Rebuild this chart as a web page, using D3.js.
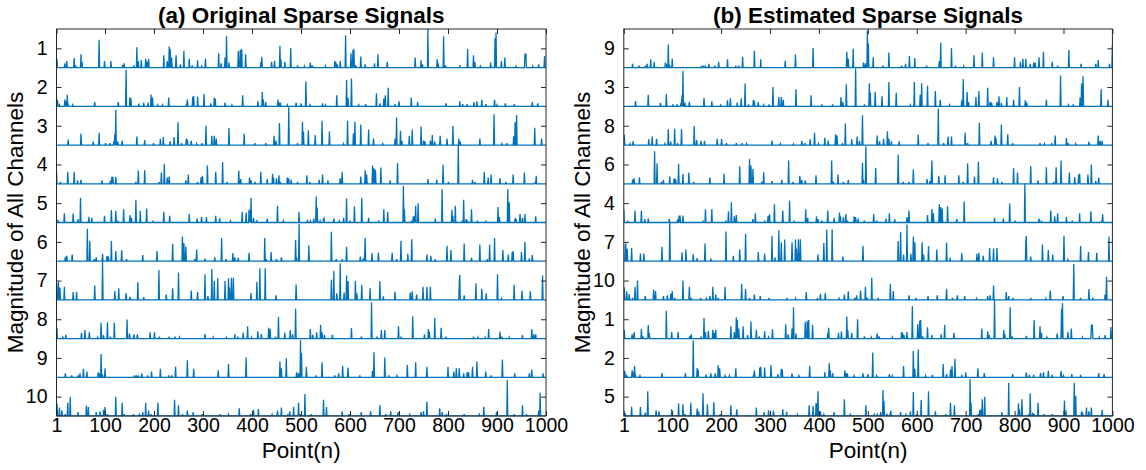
<!DOCTYPE html>
<html><head><meta charset="utf-8">
<script src="https://cdn.jsdelivr.net/npm/d3@7/dist/d3.min.js"></script>
<style>
body{margin:0;background:#fff}
text{font-family:"Liberation Sans",Arial,Helvetica,sans-serif;fill:#000}
</style>
</head><body>
<svg id="chart" width="1146" height="470"></svg>
<script>
// ---------- data ----------
const pointCount = 1000;
const xTickValues = [1,100,200,300,400,500,600,700,800,900,1000];
const titleA = "(a) Original Sparse Signals";
const titleB = "(b) Estimated Sparse Signals";
const xLabel = "Point(n)";
const yLabel = "Magnitude of All Channels";
const rowLabelsA = [1,2,3,4,5,6,7,8,9,10];
const rowLabelsB = [9,3,8,6,4,7,10,1,2,5];

// spikes per channel: [point, magnitude]
const channel1 = [[2,.23],[18,.11],[22,.17],[37,.25],[40,.06],[51,.35],[53,.15],[88,.72],[99,.17],[112,.17],[136,.07],[139,.11],[159,.04],[165,.53],[168,.17],[174,.2],[183,.23],[186,.15],[189,.23],[220,.32],[227,.17],[231,.55],[233,.48],[236,.26],[245,.32],[254,.09],[261,.44],[272,.23],[278,.06],[289,.19],[297,.04],[305,.24],[332,.37],[337,.11],[345,.26],[348,.81],[353,.13],[372,.43],[374,.2],[376,.46],[379,.48],[387,.35],[418,.15],[420,.28],[440,.15],[446,.18],[457,.57],[459,.22],[467,.15],[479,.5],[493,.06],[507,.04],[519,.13],[523,.06],[550,.04],[569,.17],[571,.15],[574,.09],[580,.17],[591,.84],[602,.37],[606,.46],[608,.48],[612,.06],[622,.29],[631,.09],[650,.11],[657,.35],[676,.15],[733,.26],[745,.19],[748,.09],[759,1.0],[778,.22],[780,.11],[791,.81],[795,.06],[824,.07],[840,.48],[852,.32],[855,.15],[866,.04],[887,.13],[896,.77],[898,.91],[909,.17],[916,.26],[939,.04],[957,.35],[958,.35],[959,.35],[973,.04],[985,.09],[997,.3]];
const channel2 = [[3,.17],[7,.04],[18,.18],[20,.13],[23,.3],[25,.04],[34,.04],[79,.11],[127,.11],[143,.95],[151,.24],[153,.2],[169,.07],[179,.1],[188,.1],[194,.31],[197,.23],[208,.04],[217,.04],[230,.23],[266,.04],[268,.18],[279,.25],[281,.27],[289,.25],[302,.32],[316,.08],[323,.22],[325,.2],[345,.1],[359,.04],[381,.29],[412,.13],[421,.37],[423,.18],[428,.11],[453,.18],[455,.1],[458,.1],[472,.04],[490,.1],[500,.08],[510,.64],[518,.04],[544,.08],[550,.04],[573,.29],[593,.68],[596,.22],[603,.72],[618,.04],[632,.06],[654,.34],[661,.08],[669,.2],[672,.29],[678,.48],[692,.06],[700,.13],[725,.23],[738,.11],[796,.08],[824,.13],[830,.06],[839,.06],[853,.11],[859,.13],[869,.17],[877,.06],[895,.17],[900,.04],[917,.08],[935,.06],[972,.11],[983,.08]];
const channel3 = [[25,.14],[51,.3],[76,.09],[88,.32],[101,.05],[110,.05],[118,.09],[120,.29],[122,.92],[126,.1],[135,.12],[165,.22],[181,.13],[199,.05],[213,.16],[219,.21],[233,.1],[241,.21],[249,.59],[256,.05],[266,.17],[268,.14],[276,.11],[287,.04],[298,.05],[306,.5],[318,.24],[323,.24],[327,.17],[353,.44],[384,.29],[406,.05],[428,.05],[445,.24],[449,.12],[456,.57],[475,.98],[493,.05],[503,.6],[505,.35],[515,.38],[529,.26],[543,.63],[558,.35],[587,.04],[595,.63],[607,.3],[610,.6],[622,.53],[638,.4],[648,.17],[667,.04],[692,.16],[695,.71],[703,.37],[706,.11],[721,.24],[727,.4],[745,.48],[750,.12],[753,.1],[764,.12],[768,.26],[773,.09],[784,.24],[798,.17],[810,.5],[822,.16],[825,.1],[865,.17],[894,.8],[910,.04],[920,.05],[934,.23],[937,.59],[940,.78],[977,.45],[991,.17]];
const channel4 = [[1,.34],[9,.05],[24,.31],[37,.31],[44,.09],[51,.1],[94,.09],[111,.08],[114,.18],[116,.18],[122,.18],[163,.05],[168,.34],[181,.35],[210,.05],[215,.29],[221,.52],[227,.16],[231,.19],[265,.09],[270,.24],[289,.05],[296,.17],[299,.21],[309,.47],[326,.31],[340,.56],[349,.05],[373,.34],[377,.12],[395,.16],[398,.09],[406,.05],[418,.31],[431,.12],[442,.26],[444,.16],[450,.14],[455,.22],[458,.05],[472,.16],[475,.14],[480,.1],[493,.05],[512,.22],[518,.05],[537,.1],[544,.24],[555,.08],[580,.14],[584,.31],[622,.19],[631,.35],[634,.24],[646,.47],[649,.4],[652,.36],[663,.42],[682,.09],[697,.54],[759,.12],[777,.1],[790,.49],[801,.05],[821,1.0],[850,.1],[855,.05],[874,.31],[882,.16],[888,.24],[906,.14],[918,.05],[933,.24],[956,.29],[978,.05],[980,.21]];
const channel5 = [[4,.07],[17,.24],[35,.23],[45,.09],[50,.64],[67,.15],[73,.12],[99,.17],[113,.32],[122,.3],[126,.05],[138,.34],[151,.19],[154,.12],[163,.59],[172,.3],[185,.36],[198,.05],[220,.28],[232,.17],[272,.22],[288,.1],[297,.15],[307,.14],[326,.17],[334,.11],[356,.04],[380,.28],[388,.26],[394,.33],[396,.33],[398,.64],[403,.12],[410,.04],[431,.1],[452,.43],[464,.04],[496,.28],[513,.04],[519,.04],[526,.1],[531,.67],[533,.39],[539,.04],[546,.09],[547,.11],[567,.1],[578,.04],[587,.12],[593,.62],[600,.05],[609,.41],[624,.64],[638,.12],[659,.05],[669,.34],[677,.28],[709,.95],[711,.34],[726,.05],[729,.16],[732,.17],[734,.43],[739,.5],[774,.1],[788,.86],[808,.33],[810,.17],[815,.43],[829,.05],[832,.59],[837,.09],[840,.05],[848,.34],[860,.05],[877,.05],[902,.4],[905,.14],[922,.86],[925,.52],[937,.12],[939,.09],[947,.22],[952,.12],[957,.22],[979,.16]];
const channel6 = [[19,.11],[22,.14],[33,.17],[64,.84],[69,.53],[78,.05],[82,.1],[95,.19],[104,.14],[107,.12],[113,.52],[122,.26],[134,.29],[144,.05],[177,.16],[206,.26],[238,.45],[258,.64],[261,.47],[265,.38],[283,.05],[287,.3],[304,.07],[324,.1],[338,.6],[347,.05],[361,.21],[365,.1],[372,.09],[394,.22],[426,.6],[429,.05],[439,.24],[450,.05],[460,.1],[489,.55],[491,.1],[496,.97],[516,.41],[562,.76],[572,.05],[584,.05],[593,.37],[621,.12],[627,.07],[630,.22],[631,.6],[645,.21],[658,.22],[686,.22],[695,.05],[704,.53],[718,.19],[726,.57],[757,.17],[765,.14],[774,.05],[798,.4],[806,.29],[833,.46],[848,.09],[865,.43],[880,.05],[885,.43],[895,.6],[912,.29],[923,.17],[931,.24],[933,.26],[950,.24],[957,.5],[966,.07],[972,.16]];
const channel7 = [[4,.42],[5,.44],[8,.32],[17,.34],[35,.2],[42,.2],[79,.37],[95,.99],[120,.23],[128,.3],[143,.18],[151,.08],[167,.46],[179,.07],[210,.77],[225,.14],[238,.3],[250,.71],[276,.24],[289,.2],[304,.66],[310,.1],[318,.8],[323,.49],[330,.56],[345,.49],[352,.56],[354,.32],[358,.57],[362,.57],[398,.18],[410,.47],[416,.82],[427,.82],[449,.12],[490,.4],[562,.52],[567,.75],[573,.17],[580,.95],[588,.19],[593,.63],[596,.49],[611,.49],[614,.17],[624,.39],[641,.3],[661,.48],[668,.09],[692,.21],[723,.19],[727,.22],[736,.14],[749,.34],[757,.33],[764,.34],[823,.48],[824,.65],[833,.12],[857,.43],[869,.29],[878,.17],[901,.66],[909,.04],[935,.39],[951,.24],[968,.22],[993,.63]];
const channel8 = [[2,.27],[14,.04],[20,.1],[52,.15],[59,.22],[68,.16],[85,.04],[92,.41],[97,.09],[105,.42],[111,.05],[119,.41],[145,.49],[150,.13],[159,.11],[166,.11],[192,.16],[201,.16],[211,.05],[231,.05],[243,.05],[252,.04],[304,.12],[321,.04],[348,.03],[365,.11],[371,.05],[382,.15],[391,.32],[399,.04],[412,.19],[419,.12],[434,.28],[437,.25],[448,.05],[454,.56],[467,.15],[478,.22],[483,.11],[489,.77],[519,.25],[524,.1],[532,.16],[540,.36],[543,.16],[548,.1],[564,.1],[603,.27],[623,.05],[644,.94],[655,.05],[664,.22],[671,.22],[699,.32],[704,.05],[728,.58],[752,.11],[760,.25],[762,.18],[773,.53],[786,.28],[796,.05],[852,.05],[861,.04],[876,.05],[883,.25],[906,.18],[910,.05],[925,.04],[952,.09],[971,.25],[975,.11],[979,.11]];
const channel9 = [[19,.1],[32,.05],[45,.05],[49,.1],[56,.22],[63,.15],[86,.13],[88,.1],[92,.6],[95,.04],[100,.23],[160,.05],[164,.05],[168,.05],[175,.1],[187,.05],[195,.15],[213,.22],[230,.05],[236,.05],[244,.28],[268,.44],[281,.22],[331,.18],[352,.34],[388,.51],[457,.41],[460,.23],[470,.49],[491,.13],[495,.11],[499,.96],[501,.63],[511,.27],[531,.05],[543,.39],[569,.05],[577,.1],[585,.3],[596,.25],[620,.05],[646,.17],[649,.65],[671,.51],[679,.05],[696,.04],[717,.32],[734,.39],[757,.27],[800,.27],[812,.15],[817,.23],[823,.23],[832,.1],[839,.13],[842,.13],[850,.27],[859,.41],[877,.15],[888,.05],[911,.46],[936,.1],[966,.1],[971,.2],[994,.1]];
const channel10 = [[2,.32],[7,.22],[12,.15],[19,.05],[24,.34],[29,.5],[45,.1],[62,.27],[66,.23],[82,.1],[90,.12],[97,.16],[100,.23],[105,.05],[122,.5],[135,.34],[139,.05],[158,.05],[170,.04],[177,.1],[183,.34],[189,.14],[194,.05],[208,.34],[242,.42],[250,.28],[258,.05],[268,.14],[280,.1],[298,.05],[335,.05],[352,.04],[374,.2],[397,.05],[403,.16],[413,.18],[441,.04],[452,.14],[460,.22],[473,.05],[477,.12],[485,.24],[495,.34],[499,.05],[508,.57],[521,.05],[546,.42],[552,.23],[584,.12],[598,.05],[623,.1],[642,.12],[661,.28],[673,.05],[683,.12],[698,.1],[722,.04],[745,.1],[750,.12],[757,.37],[783,.2],[788,.1],[797,.05],[833,.05],[864,.04],[873,.24],[899,.1],[921,.93],[935,.05],[952,.28],[960,.05],[985,.14],[988,.6]];

// extra spikes that appear only in the estimated signals (panel b)
const estimatedExtra9 = [[1000,.58]];

const channels = {1:channel1,2:channel2,3:channel3,4:channel4,5:channel5,6:channel6,7:channel7,8:channel8,9:channel9,10:channel10};
const estimatedExtras = {9: estimatedExtra9};

// ---------- drawing ----------
const svg = d3.select("#chart");
const lineColor = "#0072BD";
const axisColor = "#262626";

function fullSeries(spikes, extra){
  const s = new Array(pointCount).fill(0);
  spikes.forEach(([p,v]) => { s[p-1] = v; });
  (extra || []).forEach(([p,v]) => { s[p-1] = v; });
  return s;
}

function drawPanel(id, left, right, top, bottom, labels, title, extras){
  const g = svg.append("g");
  const x = d3.scaleLinear().domain([1, pointCount]).range([left, right]);
  const y = d3.scaleLinear().domain([0, labels.length]).range([top, bottom]);

  g.append("clipPath").attr("id", "clip" + id)
    .append("rect").attr("x", left).attr("y", top - 0.5)
    .attr("width", right - left).attr("height", bottom - top + 1);

  const lines = g.append("g").attr("clip-path", `url(#clip${id})`);
  labels.forEach((lab, r) => {
    const series = fullSeries(channels[lab], extras ? extras[lab] : null);
    const line = d3.line()
      .x((d, i) => x(i + 1))
      .y(d => y(r + 1 - d));
    lines.append("path").datum(series)
      .attr("d", line).attr("fill", "none")
      .attr("stroke", lineColor).attr("stroke-width", 1.3)
      .attr("stroke-linejoin", "miter");
  });

  g.append("rect").attr("x", left).attr("y", top)
    .attr("width", right - left).attr("height", bottom - top)
    .attr("fill", "none").attr("stroke", axisColor).attr("stroke-width", 1);

  const tickVals = labels.map((d, i) => i + 0.5);

  const ya = g.append("g").attr("transform", `translate(${left},0)`)
    .call(d3.axisLeft(y).tickValues(tickVals).tickFormat((d, i) => labels[i])
      .tickSizeInner(-5).tickSizeOuter(0).tickPadding(9));
  const yb = g.append("g").attr("transform", `translate(${right},0)`)
    .call(d3.axisRight(y).tickValues(tickVals).tickFormat("")
      .tickSizeInner(-5).tickSizeOuter(0));
  const xa = g.append("g").attr("transform", `translate(0,${bottom})`)
    .call(d3.axisBottom(x).tickValues(xTickValues).tickFormat(d3.format("d"))
      .tickSizeInner(-5).tickSizeOuter(0).tickPadding(2));
  const xt = g.append("g").attr("transform", `translate(0,${top})`)
    .call(d3.axisTop(x).tickValues(xTickValues).tickFormat("")
      .tickSizeInner(-5).tickSizeOuter(0));

  [ya, yb, xa, xt].forEach(a => {
    a.select(".domain").remove();
    a.selectAll("line").attr("stroke", axisColor);
    a.selectAll("text").attr("font-size", 19.5).attr("fill", "#000")
      .attr("font-family", "Liberation Sans, Arial, sans-serif");
  });
  xa.selectAll("text").attr("dy", "0.71em").attr("y", 2);

  g.append("text").attr("x", (left + right) / 2).attr("y", 23)
    .attr("text-anchor", "middle").attr("font-size", 22.5).attr("font-weight", "bold")
    .text(title);
  g.append("text").attr("x", (left + right) / 2).attr("y", 458)
    .attr("text-anchor", "middle").attr("font-size", 22.5).text(xLabel);
  g.append("text")
    .attr("transform", `translate(${left - 34},${(top + bottom) / 2}) rotate(-90)`)
    .attr("text-anchor", "middle").attr("font-size", 22.5).text(yLabel);
}

drawPanel("A", 56.5, 546, 29, 416, rowLabelsA, titleA, null);
drawPanel("B", 623.8, 1112.4, 29, 416, rowLabelsB, titleB, estimatedExtras);
</script>
</body></html>
